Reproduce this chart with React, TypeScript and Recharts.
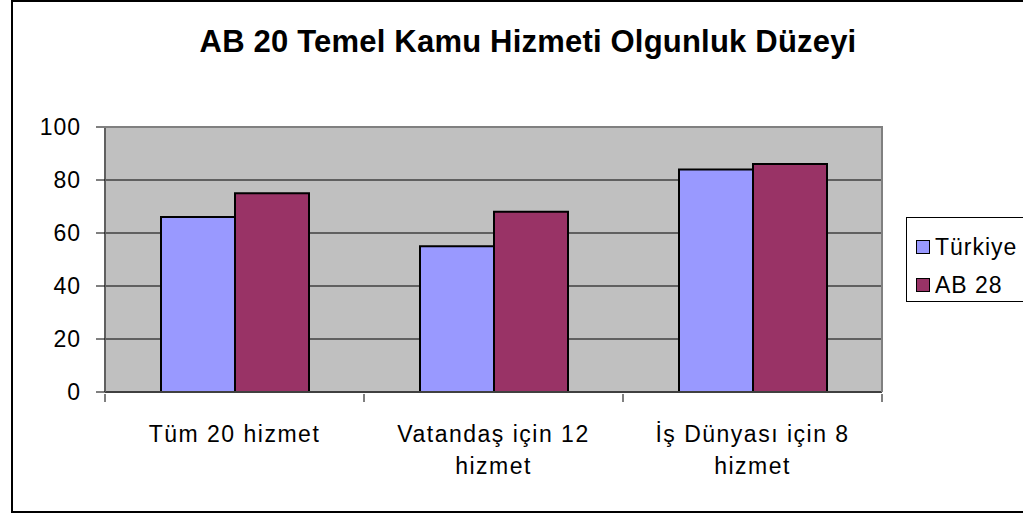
import { Bar, BarChart, CartesianGrid, Legend, XAxis, YAxis } from "recharts";

const categories = ["Tüm 20 hizmet", "Vatandaş için 12\nhizmet", "İş Dünyası için 8\nhizmet"];
const turkiye = [66, 55, 84];
const ab28 = [75, 68, 86];
const yTicks = [0, 20, 40, 60, 80, 100];
const seriesNames = ["Türkiye", "AB 28"];
const seriesColors = ["#9999FF", "#993366"];

const data = categories.map((name, i) => ({ name, turkiye: turkiye[i], ab28: ab28[i] }));

const FONT = "'Liberation Sans', Arial, sans-serif";
const W = 1023;
const H = 513;
const PLOT_LEFT = 105;
const PLOT_TOP = 127;
const PLOT_RIGHT = 882;
const PLOT_BOTTOM = 392;
const HALF_BAND = (PLOT_RIGHT - PLOT_LEFT) / categories.length / 2;

function XTick(props: any) {
  const { x, y, payload, index } = props;
  const lines = String(payload.value).split("\n");
  return (
    <g>
      <line x1={x - HALF_BAND} x2={x - HALF_BAND} y1={y} y2={y + 8} stroke="#000" />
      {index === categories.length - 1 && (
        <line x1={x + HALF_BAND} x2={x + HALF_BAND} y1={y} y2={y + 8} stroke="#000" />
      )}
      <text x={x} y={y + 48} textAnchor="middle" fontSize={23} letterSpacing={1.5} fill="#000" fontFamily={FONT}>
        {lines.map((l, i) => (
          <tspan key={i} x={x} dy={i === 0 ? 0 : 32}>
            {l}
          </tspan>
        ))}
      </text>
    </g>
  );
}

function LegendBox() {
  return (
    <div
      style={{
        width: 130,
        height: 85,
        border: "1px solid #000",
        boxSizing: "border-box",
        background: "#fff",
        fontFamily: FONT,
        fontSize: 23,
        letterSpacing: 1,
        paddingTop: 10,
      }}
    >
      {seriesNames.map((n, i) => (
        <div key={n} style={{ display: "flex", alignItems: "center", height: 38 }}>
          <span
            style={{
              display: "inline-block",
              width: 12,
              height: 12,
              marginLeft: 9,
              marginRight: 5,
              background: seriesColors[i],
              border: "1px solid #000",
            }}
          />
          <span>{n}</span>
        </div>
      ))}
    </div>
  );
}

export default function App() {
  return (
    <div style={{ position: "absolute", left: 0, top: 0, width: W, height: H, overflow: "hidden", background: "#fff" }}>
      <div
        style={{
          position: "absolute",
          left: 11,
          top: 0,
          width: 1100,
          height: 513,
          border: "2px solid #000",
          boxSizing: "border-box",
        }}
      />
      <div
        style={{
          position: "absolute",
          left: 0,
          width: 1056,
          top: 24,
          textAlign: "center",
          fontFamily: FONT,
          fontWeight: "bold",
          fontSize: 31,
          letterSpacing: 0.2,
        }}
      >
        AB 20 Temel Kamu Hizmeti Olgunluk Düzeyi
      </div>
      <div style={{ position: "absolute", left: 0, top: 0 }}>
        <BarChart
          width={W}
          height={H}
          data={data}
          barSize={74}
          barGap={0}
          margin={{ top: PLOT_TOP, left: 12, right: W - PLOT_RIGHT, bottom: H - PLOT_BOTTOM - 100 }}
        >
          <CartesianGrid vertical={false} stroke="#000" fill="#C0C0C0" fillOpacity={1} />
          <XAxis
            dataKey="name"
            height={100}
            interval={0}
            tickSize={0}
            tickLine={false}
            axisLine={{ stroke: "#404040", strokeWidth: 2 }}
            tick={<XTick />}
          />
          <YAxis
            width={PLOT_LEFT - 12}
            domain={[0, 100]}
            ticks={yTicks}
            interval={0}
            tickSize={9}
            tickMargin={15}
            axisLine={{ stroke: "#606060", strokeWidth: 2 }}
            tickLine={{ stroke: "#000" }}
            tick={{ fill: "#000", fontSize: 23, fontFamily: FONT, letterSpacing: 1 }}
          />
          <Legend
            layout="vertical"
            align="center"
            verticalAlign="middle"
            content={() => <LegendBox />}
            wrapperStyle={{ left: 906, top: 217, width: 130 }}
          />
          <Bar dataKey="turkiye" name={seriesNames[0]} fill={seriesColors[0]} stroke="#000" strokeWidth={2} isAnimationActive={false} />
          <Bar dataKey="ab28" name={seriesNames[1]} fill={seriesColors[1]} stroke="#000" strokeWidth={2} isAnimationActive={false} />
        </BarChart>
      </div>
      <div
        style={{
          position: "absolute",
          left: PLOT_LEFT - 1,
          top: PLOT_TOP - 1,
          width: PLOT_RIGHT - PLOT_LEFT + 2,
          height: PLOT_BOTTOM - PLOT_TOP + 1,
          borderTop: "2px solid #808080",
          borderRight: "2px solid #808080",
          boxSizing: "border-box",
          pointerEvents: "none",
        }}
      />
    </div>
  );
}
